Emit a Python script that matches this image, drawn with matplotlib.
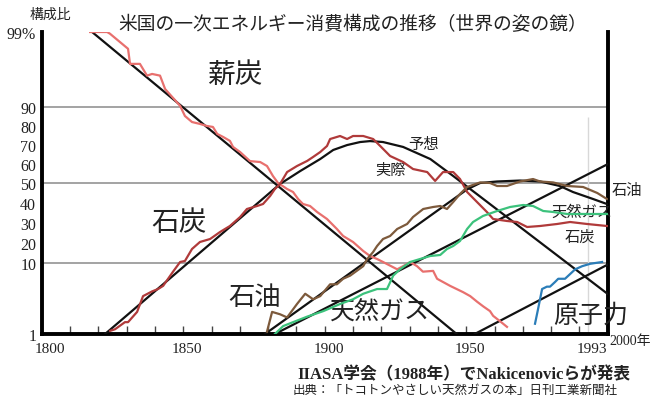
import numpy as np
import matplotlib.pyplot as plt
from matplotlib.transforms import ScaledTranslation

plt.rcParams['font.family'] = ['Noto Sans CJK JP', 'DejaVu Sans']

# 実績値 (年, 構成比%)
wood_yr = [1817.1, 1823.1, 1824.1, 1830.5, 1831.2, 1834.7, 1837.2, 1839.0, 1841.8, 1843.6,
           1848.9, 1850.6, 1853.1, 1855.9, 1858.4, 1860.5, 1862.0, 1864.1, 1866.5, 1867.6,
           1870.1, 1873.6, 1877.2, 1879.6, 1881.7, 1883.5, 1886.7, 1888.8, 1890.6, 1892.3,
           1894.8, 1897.3, 1900.8, 1904.3, 1906.5, 1910.0, 1913.6, 1916.0, 1918.5, 1920.6,
           1925.6, 1927.7, 1930.2, 1932.6, 1934.7, 1938.3, 1939.7, 1944.3, 1948.9, 1951.4,
           1953.8, 1956.0, 1958.4, 1959.5, 1962.0, 1964.4]
wood_pct = [99, 99, 98.8, 97.0, 95.2, 95.2, 93.8, 94.0, 93.8, 92.2,
            90.2, 85.5, 82.3, 81.3, 80.2, 79.7, 76.0, 74.4, 72.3, 69.1,
            66.4, 61.6, 61.1, 59.0, 53.7, 50, 47, 45.5, 42, 39.5,
            38.5, 35.5, 32, 27, 23.5, 20.5, 16, 13.5, 12, 10.5,
            9.2, 9.6, 10.5, 9.6, 8.9, 9.0, 8.0, 7.1, 6.3, 5.8,
            5.1, 4.5, 3.9, 3.3, 2.6, 1.9]

coal_yr = [1824.2, 1825.9, 1829.4, 1830.5, 1833.7, 1835.8, 1839.0, 1841.1, 1842.9, 1846.4,
           1848.9, 1850.6, 1853.1, 1855.9, 1859.5, 1863.0, 1866.5, 1870.1, 1872.5, 1876.1,
           1878.2, 1880.7, 1882.4, 1884.2, 1886.7, 1890.2, 1893.8, 1895.9, 1898.4, 1900.8,
           1901.9, 1905.4, 1907.9, 1910.0, 1913.6, 1917.1, 1919.6, 1923.1, 1927.7, 1931.2,
           1936.2, 1939.0, 1941.8, 1945.4, 1947.8, 1950.3, 1953.8, 1957.3, 1959.5, 1964.4,
           1968.0, 1971.5, 1976.1, 1982.1, 1986.7, 1992.7, 1999.7]
coal_pct = [1.4, 1.6, 2.5, 2.5, 3.8, 5.8, 6.4, 6.7, 7.1, 8.9,
            10.5, 11, 17, 20.5, 22, 25.5, 28.5, 33, 37, 38.5,
            39.5, 43.5, 47, 49.5, 55.8, 59.0, 61.7, 63.8, 66.4, 69.6,
            73.3, 74.9, 73.3, 74.9, 74.9, 73.3, 69.6, 64.3, 61.1, 57.4,
            55.8, 51.1, 55.8, 55.8, 52.1, 45.5, 40.5, 35.5, 32, 31,
            30.5, 28, 28.5, 29.5, 30.5, 29.5, 28.5]

oil_yr = [1879.6, 1881.4, 1884.2, 1886.7, 1890.2, 1893.1, 1895.9, 1898.4, 1901.9, 1904.3,
          1906.5, 1909.0, 1913.6, 1915.0, 1917.1, 1918.5, 1920.6, 1923.1, 1925.6, 1929.1,
          1931.2, 1934.8, 1938.3, 1940.8, 1943.2, 1945.4, 1947.8, 1950.3, 1954.9, 1958.4,
          1960.9, 1964.4, 1969.0, 1973.6, 1976.1, 1980.7, 1985.7, 1991.3, 1996.3, 1999.7]
oil_pct = [1.3, 3.8, 3.5, 3.1, 4.8, 6.1, 5.4, 5.8, 7.3, 7.3,
           8.0, 8.4, 9.6, 12, 15.5, 18.5, 22, 23.5, 27, 29.5,
           33, 37, 38, 38.5, 37, 40.5, 44.5, 48, 50.3, 50,
           48.5, 48.5, 50.8, 52.1, 50.8, 50.3, 48.5, 48, 45, 42]

gas_yr = [1882.4, 1885.3, 1888.8, 1893.8, 1899.5, 1905.4, 1910.0, 1913.6, 1918.5, 1922.0,
          1924.2, 1926.6, 1930.2, 1933.7, 1937.3, 1940.8, 1943.2, 1945.4, 1947.8, 1950.3,
          1952.4, 1955.9, 1960.9, 1965.5, 1970.1, 1973.6, 1977.2, 1980.7, 1985.7, 1992.7,
          1999.7]
gas_pct = [1, 2.0, 2.5, 3.2, 3.9, 4.8, 5.4, 6.1, 6.7, 6.7,
           8.4, 9.2, 10.5, 12, 13.5, 14, 17, 18.5, 21, 27,
           30.5, 33.5, 36, 38, 39, 38.5, 36, 35.5, 34.5, 34.5,
           34.5]

nuc_yr = [1974.3, 1975.4, 1976.8, 1978.5, 1979.6, 1981.4, 1982.5, 1984.9, 1986.7, 1988.5,
          1991.0, 1993.8, 1998.0]
nuc_pct = [2.3, 4.2, 6.7, 7.0, 7.0, 7.6, 8.0, 8.0, 8.6, 9.2,
           9.6, 9.9, 10.5]

# ロジスティック予想 (Nakicenovic)
wood_fit_yr = [1817.8, 1946.6]
wood_fit_pct = [99, 1]
coal_fit_yr = [1822.4, 1884.2, 1891.3, 1898.4, 1903.0, 1907.9, 1912.5, 1916.0, 1920.6,
               1927.7, 1937.3, 1945.4, 1951.4, 1999.9]
coal_fit_pct = [1, 49.5, 56.3, 62.7, 67.5, 70.1, 71.7, 72.2, 71.7,
                69.1, 62.7, 53.7, 47, 6.1]
oil_fit_yr = [1878.9, 1950.3, 1954.9, 1960.9, 1969.0, 1976.1, 1983.1, 1987.7, 1994.8, 1999.7]
oil_fit_pct = [1, 46.8, 50, 50.8, 51.3, 50.8, 48.5, 45.5, 42, 39.5]
gas_fit_yr = [1882.4, 2000.0]
gas_fit_pct = [1, 60]
nuc_fit_yr = [1953.0, 2000.0]
nuc_fit_pct = [1, 9.8]

y_ticks = [1, 10, 20, 30, 40, 50, 60, 70, 80, 90, 99]
y_labels = ['1', '10', '20', '30', '40', '50', '60', '70', '80', '90', '99%']
x_ticks = [1800, 1850, 1900, 1950, 1993]

# 縦軸: 10〜90% はほぼ等間隔、両端 (1%, 99%) 側は圧縮
pct_knots = [1, 10, 50, 90, 99]
pos_knots = [0, 71, 151, 226.5, 302]


def fwd(v):
    return np.interp(v, pct_knots, pos_knots)


def inv(p):
    return np.interp(p, pos_knots, pct_knots)


serif = ['Liberation Serif', 'Noto Sans CJK JP']
ink = '#222222'

fig = plt.figure(figsize=(6.53, 4.02), dpi=100)
ax = fig.add_axes([0.0639, 0.1667, 0.8668, 0.7512])
ax.set_yscale('function', functions=(fwd, inv))
ax.set_xlim(1800, 2000)
ax.set_ylim(1, 99)

for v in [10, 50, 90]:
    ax.axhline(v, color='#8a8a8a', lw=1.1, zorder=1)
ax.vlines(1993, 1, 85, color='#d8d8d8', lw=1.0, zorder=1)

# 予想線
for xs, ys in [(wood_fit_yr, wood_fit_pct), (coal_fit_yr, coal_fit_pct),
               (oil_fit_yr, oil_fit_pct), (gas_fit_yr, gas_fit_pct),
               (nuc_fit_yr, nuc_fit_pct)]:
    ax.plot(xs, ys, color='#111111', lw=1.6, zorder=3)

# 実績
ax.plot(wood_yr, wood_pct, color='#e8706e', lw=1.6, zorder=4)
ax.plot(coal_yr, coal_pct, color='#b03a3a', lw=1.6, zorder=4)
ax.plot(oil_yr, oil_pct, color='#7d5a3c', lw=1.6, zorder=4)
ax.plot(gas_yr, gas_pct, color='#3cc27c', lw=1.6, zorder=4)
ax.plot(nuc_yr, nuc_pct, color='#2b7db8', lw=1.6, zorder=4)

# 軸まわり
ax.spines['top'].set_visible(False)
for s in ['left', 'right', 'bottom']:
    ax.spines[s].set_linewidth(2.8)
    ax.spines[s].set_color('black')

ax.set_yticks(y_ticks, labels=y_labels, fontfamily='Liberation Serif', fontsize=11.5, color=ink)
ax.set_yticks([], minor=True)
ax.tick_params(axis='y', length=0, pad=4)

ax.set_xticks(x_ticks, labels=[str(x) for x in x_ticks], fontfamily='Liberation Serif',
              fontsize=11, color=ink)
ax.set_xticks(range(1810, 2000, 10), minor=True)
ax.xaxis.remove_overlapping_locs = False
ax.tick_params(axis='x', which='major', length=0, pad=6)
ax.tick_params(axis='x', which='minor', direction='in', length=6, width=1, color='#444444')

# 年ラベルは少し右へ (1800 は縦軸の「1」と重ならないよう多めに)
for i, lbl in enumerate(ax.get_xticklabels()):
    dx = 8 if i == 0 else 4
    lbl.set_transform(lbl.get_transform() + ScaledTranslation(dx / 100, 0, fig.dpi_scale_trans))

# グラフ内ラベル
ax.text(1868.3, 94.0, '薪炭', fontsize=20, ha='center', va='center', color=ink)
ax.text(1848.5, 30.5, '石炭', fontsize=20, ha='center', va='center', color=ink)
ax.text(1875.4, 5.7, '石油', fontsize=19, ha='center', va='center', color=ink)
ax.text(1919.6, 3.8, '天然ガス', fontsize=18, ha='center', va='center', color=ink)
ax.text(1993.8, 3.5, '原子力', fontsize=18, ha='center', va='center', color=ink)
ax.text(1934.8, 70.7, '予想', fontsize=11, ha='center', va='center', color=ink)
ax.text(1923.1, 57.4, '実際', fontsize=11, ha='center', va='center', color=ink)
ax.text(2006.8, 46.8, '石油', fontsize=11, ha='center', va='center', color=ink)
ax.text(1990.9, 35.8, '天然ガス', fontsize=11, ha='center', va='center', color=ink)
ax.text(1990.2, 23.5, '石炭', fontsize=11, ha='center', va='center', color=ink)

fig.text(353 / 653, 1 - 25 / 402, '米国の一次エネルギー消費構成の推移（世界の姿の鏡）',
         fontsize=13.5, ha='center', va='center', color=ink)
fig.text(50 / 653, 1 - 15 / 402, '構成比', fontsize=10, ha='center', va='center', color=ink)
fig.text(609 / 653, 1 - 342 / 402, '2000年', family=serif, fontsize=10,
         ha='left', va='center', color=ink)

fig.text(297 / 653, 1 - 375 / 402, 'IIASA学会（1988年）でNakicenovicらが発表', family=serif,
         fontsize=12, fontweight='bold', ha='left', va='center', color=ink)
fig.text(293 / 653, 1 - 390 / 402, '出典：「トコトンやさしい天然ガスの本」日刊工業新聞社',
         fontsize=9, ha='left', va='center', color=ink)

fig.savefig('out.png', dpi=100)
